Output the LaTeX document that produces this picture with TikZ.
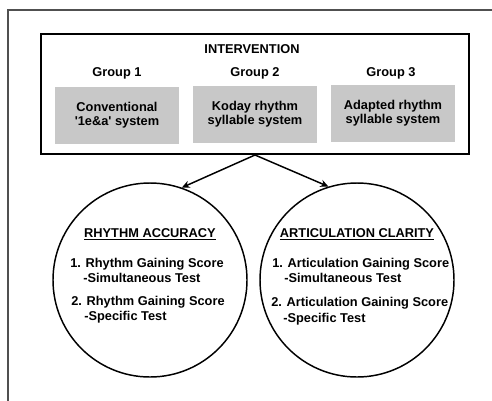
\documentclass[tikz,border=0pt]{standalone}
\usepackage{fontspec}
\setmainfont{Liberation Sans}
\usetikzlibrary{arrows.meta}
\definecolor{boxgray}{RGB}{200,200,200}
\definecolor{framegray}{RGB}{80,80,80}
\begin{document}
\begin{tikzpicture}[x=0.75pt,y=-0.75pt,
  txt/.style={font=\fontsize{9.6}{10.5}\selectfont\bfseries, inner sep=0pt},
  grpbox/.style={txt, fill=boxgray, minimum width=93pt, minimum height=42.75pt, align=center},
  outcome/.style={circle, draw, line width=1.1pt, minimum size=145.5pt, inner sep=0pt},
  conn/.style={line width=1.1pt, -{Stealth[length=6pt,width=5.5pt]}}]
\useasboundingbox (0,0) rectangle (492,400);
\coordinate (fa) at (8,402);
\coordinate (fb) at (8,10);
\coordinate (fc) at (494,10);
\draw[framegray, line width=0.8pt] (fa) -- (fb) -- (fc);
\node[draw, line width=1.5pt, minimum width=321pt, minimum height=90pt, inner sep=0pt] (inter) at (255,94) {};
\node[txt, anchor=base] (title) at (252,53.5) {INTERVENTION};
\node[txt, anchor=base] (g1) at (117,76.5) {Group 1};
\node[txt, anchor=base] (g2) at (255,76.5) {Group 2};
\node[txt, anchor=base] (g3) at (391,76.5) {Group 3};
\node[grpbox] (b1) at (117,115.5) {Conventional\\\textquotesingle 1e\&a\textquotesingle{} system};
\node[grpbox] (b2) at (255,114.5) {Koday rhythm\\syllable system};
\node[grpbox] (b3) at (393,113.5) {Adapted rhythm\\syllable system};
\node[outcome] (lc) at (150,280) {};
\node[outcome] (rc) at (357,280) {};
\draw[conn] (inter.south) -- (lc.71);
\draw[conn] (inter.south) -- (rc.107);
\node[txt, anchor=base] (lh) at (150,237.5) {\underline{RHYTHM ACCURACY}};
\node[txt, anchor=base] (rh) at (357,237.5) {\underline{ARTICULATION CLARITY}};
\node[txt, anchor=base west] (l1) at (70,267.5) {1. Rhythm Gaining Score};
\node[txt, anchor=base west] (l2) at (83,282.5) {-Simultaneous Test};
\node[txt, anchor=base west] (l3) at (71,305.5) {2. Rhythm Gaining Score};
\node[txt, anchor=base west] (l4) at (84,320.5) {-Specific Test};
\node[txt, anchor=base west] (r1) at (272,267.5) {1. Articulation Gaining Score};
\node[txt, anchor=base west] (r2) at (284,282.5) {-Simultaneous Test};
\node[txt, anchor=base west] (r3) at (271,306.5) {2. Articulation Gaining Score};
\node[txt, anchor=base west] (r4) at (283,322) {-Specific Test};
\end{tikzpicture}
\end{document}
